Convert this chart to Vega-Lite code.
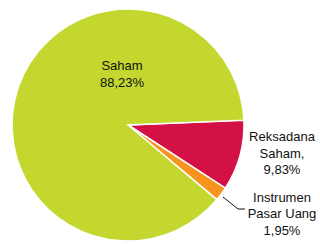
{
  "$schema": "https://vega.github.io/schema/vega-lite/v6.json",
  "width": 256,
  "height": 250,
  "padding": 0,
  "autosize": {"type": "pad"},
  "background": "white",
  "config": {"view": {"stroke": null}},
  "layer": [
    {
      "data": {"values": [
        {"cat": "Reksadana Saham", "value": 9.83, "o": 1},
        {"cat": "Instrumen Pasar Uang", "value": 1.95, "o": 2},
        {"cat": "Saham", "value": 88.23, "o": 3}
      ]},
      "mark": {"type": "arc", "outerRadius": 116, "stroke": "white", "strokeWidth": 1.5},
      "encoding": {
        "theta": {"field": "value", "type": "quantitative", "stack": true, "scale": {"range": [1.529, 7.812]}},
        "order": {"field": "o", "type": "quantitative"},
        "color": {"field": "cat", "type": "nominal", "legend": null,
          "scale": {"domain": ["Saham", "Reksadana Saham", "Instrumen Pasar Uang"], "range": ["#C3D72F", "#D31145", "#F7941D"]}}
      }
    },
    {
      "data": {"values": [
        {"label": "Saham\n88,23%", "x": 122, "y": 66},
        {"label": "Reksadana\nSaham,\n9,83%", "x": 282, "y": 137},
        {"label": "Instrumen\nPasar Uang\n1,95%", "x": 282, "y": 197.5}
      ]},
      "mark": {"type": "text", "font": "Liberation Sans", "fontSize": 13, "lineHeight": 16.5, "lineBreak": "\n", "align": "center", "baseline": "middle", "color": "#111111"},
      "encoding": {
        "x": {"field": "x", "type": "quantitative", "axis": null, "scale": {"domain": [0, 256], "nice": false, "zero": false}},
        "y": {"field": "y", "type": "quantitative", "axis": null, "scale": {"domain": [0, 250], "reverse": true, "nice": false, "zero": false}},
        "text": {"field": "label", "type": "nominal"}
      }
    },
    {
      "data": {"values": [
        {"x": 223, "y": 197, "o": 1},
        {"x": 238, "y": 209, "o": 2},
        {"x": 245, "y": 209, "o": 3}
      ]},
      "mark": {"type": "line", "color": "#111111", "strokeWidth": 1},
      "encoding": {
        "x": {"field": "x", "type": "quantitative", "axis": null, "scale": {"domain": [0, 256], "nice": false, "zero": false}},
        "y": {"field": "y", "type": "quantitative", "axis": null, "scale": {"domain": [0, 250], "reverse": true, "nice": false, "zero": false}},
        "order": {"field": "o", "type": "quantitative"}
      }
    }
  ]
}
